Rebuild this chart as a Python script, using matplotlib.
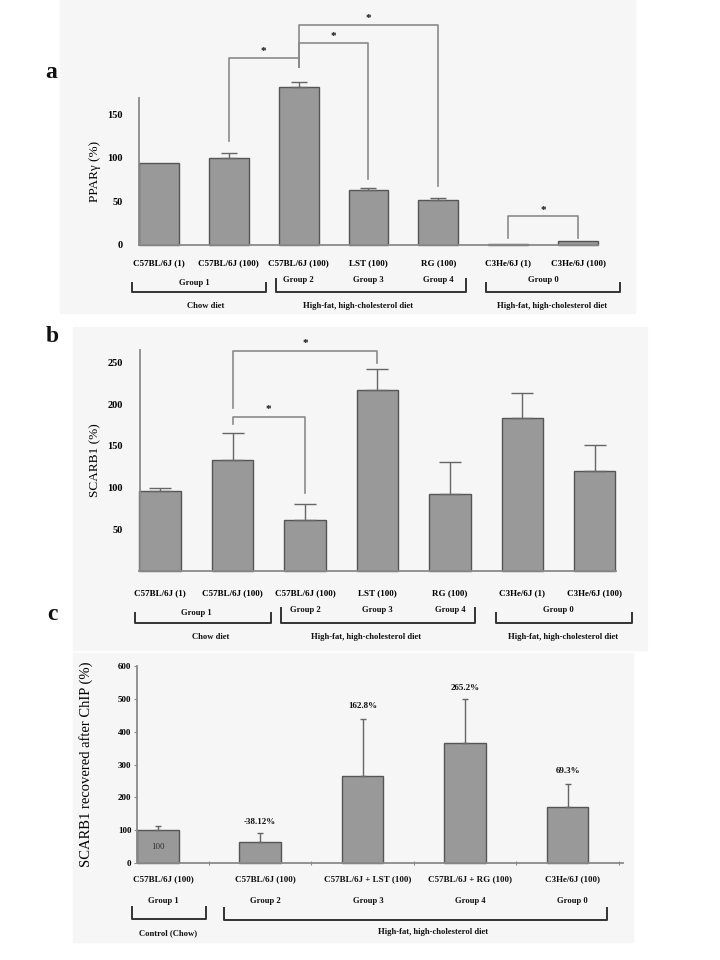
import matplotlib
matplotlib.use('Agg')
import matplotlib.pyplot as plt
from matplotlib.lines import Line2D
from matplotlib.patches import Rectangle
import matplotlib.transforms as mtransforms

plt.rcParams['font.family'] = ['Liberation Serif', 'DejaVu Serif']

# panel a: PPARgamma
a_labels = ['C57BL/6J (1)', 'C57BL/6J (100)', 'C57BL/6J (100)', 'LST (100)', 'RG (100)',
            'C3He/6J (1)', 'C3He/6J (100)']
a_values = [94, 100, 181, 63, 51, 1, 5]
a_err = [0, 5, 6, 2, 3, 0, 0]

# panel b: SCARB1
b_labels = ['C57BL/6J (1)', 'C57BL/6J (100)', 'C57BL/6J (100)', 'LST (100)', 'RG (100)',
            'C3He/6J (1)', 'C3He/6J (100)']
b_values = [96, 133, 61, 217, 92, 183, 120]
b_err = [3, 32, 19, 25, 39, 30, 31]

# panel c: SCARB1 after ChIP
c_labels = ['C57BL/6J (100)', 'C57BL/6J (100)', 'C57BL/6J + LST (100)',
            'C57BL/6J + RG (100)', 'C3He/6J (100)']
c_values = [100, 64, 264, 366, 171]
c_err = [13, 27, 175, 133, 70]
c_notes = ['', '-38.12%', '162.8%', '265.2%', '69.3%']
c_note_y = [0, 125, 479, 534, 280]
c_groups = ['Group 1', 'Group 2', 'Group 3', 'Group 4', 'Group 0']

W, H = 720, 960
fig = plt.figure(figsize=(7.2, 9.6), dpi=100)

BAR = '#999999'
EDGE = '#555555'
AXC = '#8a8a8a'
BOLD = dict(fontweight='bold', color='#111111')


def fx(x):
    return x / W


def fy(y):
    return 1 - y / H


def px_axes(left, right, top, bottom):
    return fig.add_axes([fx(left), fy(bottom), (right - left) / W, (bottom - top) / H])


def fig_line(xs, ys, lw=1.4, color='#333333'):
    fig.add_artist(Line2D([fx(x) for x in xs], [fy(y) for y in ys], lw=lw, color=color,
                          transform=fig.transFigure))


def fig_text(x, y, s, size=6.2, **kw):
    fig.text(fx(x), fy(y), s, ha='center', va='center', fontsize=size, **kw)


def group_bracket(x0, x1, yl, yb, yr=None):
    if yr is None:
        yr = yl
    fig_line([x0, x0, x1, x1], [yl, yb, yb, yr])


def sig(ax, x0, x1, y, y0, y1, ystar):
    ax.plot([x0, x0, x1, x1], [y0, y, y, y1], color=AXC, lw=1.2, clip_on=False)
    ax.text((x0 + x1) / 2, ystar, '*', ha='center', va='center', fontsize=8, **BOLD)


def style(ax):
    for s in ['top', 'right']:
        ax.spines[s].set_visible(False)
    for s in ['left', 'bottom']:
        ax.spines[s].set_color(AXC)
        ax.spines[s].set_linewidth(1.3)
    ax.patch.set_alpha(0)


def bars(ax, xs, vals, errs, width, capsize):
    ax.bar(xs, vals, width=width, color=BAR, edgecolor=EDGE, linewidth=1, clip_on=False)
    for x, v, e in zip(xs, vals, errs):
        if e > 0:
            _, caps, lines = ax.errorbar(x, v, yerr=[[0], [e]], color='#666666', lw=1,
                                         capsize=capsize, capthick=1)
            for art in list(caps) + list(lines):
                art.set_clip_on(False)


# faint panel backgrounds
for (l, t, r, b) in [(60, 0, 635, 313), (73, 327, 647, 650), (73, 653, 633, 942)]:
    fig.add_artist(Rectangle((fx(l), fy(b)), (r - l) / W, (b - t) / H, color='#f6f6f6',
                             transform=fig.transFigure, zorder=-10))

# ---------------- panel a ----------------
ax = px_axes(139, 598, 98.3, 245)
style(ax)
xa = list(range(len(a_values)))
bars(ax, xa, a_values, a_err, 0.57, 6)
ax.set_xlim(-0.285, 6.285)
ax.set_ylim(0, 168)
ax.set_yticks([0, 50, 100, 150])
ax.set_yticklabels(['0', '50', '100', '150'], fontsize=7.5, fontweight='bold')
ax.set_xticks(xa)
ax.set_xticklabels(a_labels, fontsize=6.5, fontweight='bold')
ax.tick_params(length=0, pad=10)
ax.tick_params(axis='y', pad=12)
ax.set_ylabel('PPARγ (%)', fontsize=9.5, labelpad=4)
sig(ax, 2, 4, 252, 204, 68, 259)
sig(ax, 2, 3, 231, 204, 76, 239)
sig(ax, 1, 2, 214, 119, 204, 222)
sig(ax, 5, 6, 33, 8, 8, 40)

tr = mtransforms.blended_transform_factory(ax.transData, fig.transFigure)
for x, y, s in [(0.5, 283, 'Group 1'), (2, 280, 'Group 2'), (3, 280, 'Group 3'),
                (4, 280, 'Group 4'), (5.5, 280, 'Group 0')]:
    ax.text(x, fy(y), s, transform=tr, ha='center', va='center', fontsize=6.2, **BOLD)
group_bracket(132, 266, 283, 292)
group_bracket(276, 466, 279, 292)
group_bracket(486, 620, 283, 292)
fig_text(206, 306, 'Chow diet', **BOLD)
fig_text(358, 306, 'High-fat, high-cholesterol diet', **BOLD)
fig_text(552, 306, 'High-fat, high-cholesterol diet', **BOLD)
fig_text(51, 73, 'a', size=17, **BOLD)

# ---------------- panel b ----------------
ax = px_axes(139.5, 615.5, 350, 571)
style(ax)
xb = list(range(len(b_values)))
bars(ax, xb, b_values, b_err, 0.566, 8)
ax.set_xlim(-0.283, 6.283)
ax.set_ylim(0, 265)
ax.set_yticks([50, 100, 150, 200, 250])
ax.set_yticklabels(['50', '100', '150', '200', '250'], fontsize=7.5, fontweight='bold')
ax.set_xticks(xb)
ax.set_xticklabels(b_labels, fontsize=6.5, fontweight='bold')
ax.tick_params(length=0, pad=13)
ax.tick_params(axis='y', pad=12)
ax.set_ylabel('SCARB1 (%)', fontsize=9.5, labelpad=4)
sig(ax, 1, 3, 264, 195, 250, 273)
sig(ax, 1, 2, 185, 176, 94, 194)

tr = mtransforms.blended_transform_factory(ax.transData, fig.transFigure)
for x, y, s in [(0.5, 613, 'Group 1'), (2, 610, 'Group 2'), (3, 610, 'Group 3'),
                (4, 610, 'Group 4'), (5.5, 610, 'Group 0')]:
    ax.text(x, fy(y), s, transform=tr, ha='center', va='center', fontsize=6.2, **BOLD)
group_bracket(135, 271, 613, 623)
group_bracket(281, 475, 608, 623)
group_bracket(496, 632, 613, 623)
fig_text(211, 637, 'Chow diet', **BOLD)
fig_text(366, 637, 'High-fat, high-cholesterol diet', **BOLD)
fig_text(563, 637, 'High-fat, high-cholesterol diet', **BOLD)
fig_text(52, 337, 'b', size=17, **BOLD)
fig_text(52, 615, 'c', size=17, **BOLD)

# ---------------- panel c ----------------
ax = px_axes(137, 623, 666, 863)
style(ax)
xc = list(range(len(c_values)))
bars(ax, xc, c_values, c_err, 0.405, 2)
ax.set_xlim(-0.2027, 4.54)
ax.set_ylim(0, 600)
ax.set_yticks(range(0, 601, 100))
ax.set_yticklabels([str(v) for v in range(0, 601, 100)], fontsize=6.5, fontweight='bold')
ax.set_xticks([i + 0.5 for i in xc])
ax.set_xticklabels([])
ax.tick_params(axis='x', length=3, direction='inout', color=AXC)
ax.tick_params(axis='y', length=2, color=AXC, pad=2)
ax.set_ylabel('SCARB1 recovered after ChIP (%)', fontsize=10.5, labelpad=18)
for x, s, y in zip(xc, c_notes, c_note_y):
    if s:
        ax.text(x, y, s, ha='center', va='center', fontsize=6.5, **BOLD)
ax.text(0, 49, '100', ha='center', va='center', fontsize=6.5, color='#333333')

tr = mtransforms.blended_transform_factory(ax.transData, fig.transFigure)
for x, lab, g in zip(xc, c_labels, c_groups):
    ax.text(x + 0.05, fy(879), lab, transform=tr, ha='center', va='center', fontsize=6.5, **BOLD)
    ax.text(x + 0.05, fy(901), g, transform=tr, ha='center', va='center', fontsize=6.2, **BOLD)
group_bracket(132, 206, 907, 919)
group_bracket(224, 607, 908, 920)
fig_text(168, 933, 'Control (Chow)', **BOLD)
fig_text(433, 932, 'High-fat, high-cholesterol diet', **BOLD)

fig.savefig('out.png', dpi=100)
